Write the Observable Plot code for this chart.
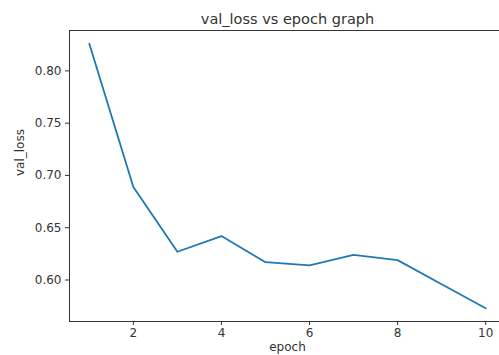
<!DOCTYPE html>
<html>
<head>
<meta charset="utf-8">
<script src="https://cdn.jsdelivr.net/npm/d3@7"></script>
<script src="https://cdn.jsdelivr.net/npm/@observablehq/plot@0.6"></script>
<style>
  html, body { margin: 0; padding: 0; background: #fff; overflow: hidden; }
</style>
</head>
<body>
<div id="chart"></div>
<script>
const epochs = [1, 2, 3, 4, 5, 6, 7, 8, 9, 10];
const valLoss = [0.826, 0.689, 0.627, 0.642, 0.617, 0.614, 0.624, 0.619, 0.596, 0.573];
const xTicks = [2, 4, 6, 8, 10];
const yTicks = [0.60, 0.65, 0.70, 0.75, 0.80];
const title = "val_loss vs epoch graph";
const xLabel = "epoch";
const yLabel = "val_loss";

const data = epochs.map((e, i) => ({epoch: e, val_loss: valLoss[i]}));

const chart = Plot.plot({
  width: 505,
  height: 355,
  marginTop: 30,
  marginBottom: 34,
  marginLeft: 69,
  marginRight: 0,
  style: {fontFamily: "DejaVu Sans", fontSize: "12px", color: "#333", background: "#fff", maxWidth: "none"},
  x: {domain: [0.55, 10.45], ticks: xTicks, tickSize: 4, tickPadding: 3, label: null},
  y: {domain: [0.5603, 0.8386], ticks: yTicks, tickFormat: d3.format(".2f"), tickSize: 4, tickPadding: 4, label: null},
  marks: [
    Plot.frame({stroke: "#333", strokeWidth: 1}),
    Plot.line(data, {x: "epoch", y: "val_loss", stroke: "#1f77b4", strokeWidth: 1.8}),
    Plot.text([title], {frameAnchor: "top", lineAnchor: "middle", dy: -11, fontSize: 14.5, fill: "#333"}),
    Plot.text([xLabel], {frameAnchor: "bottom", lineAnchor: "middle", dy: 26, fontSize: 12, fill: "#333"}),
    Plot.text([yLabel], {frameAnchor: "left", lineAnchor: "middle", dx: -49, rotate: -90, fontSize: 12, fill: "#333"})
  ]
});
document.getElementById("chart").appendChild(chart);
</script>
</body>
</html>
